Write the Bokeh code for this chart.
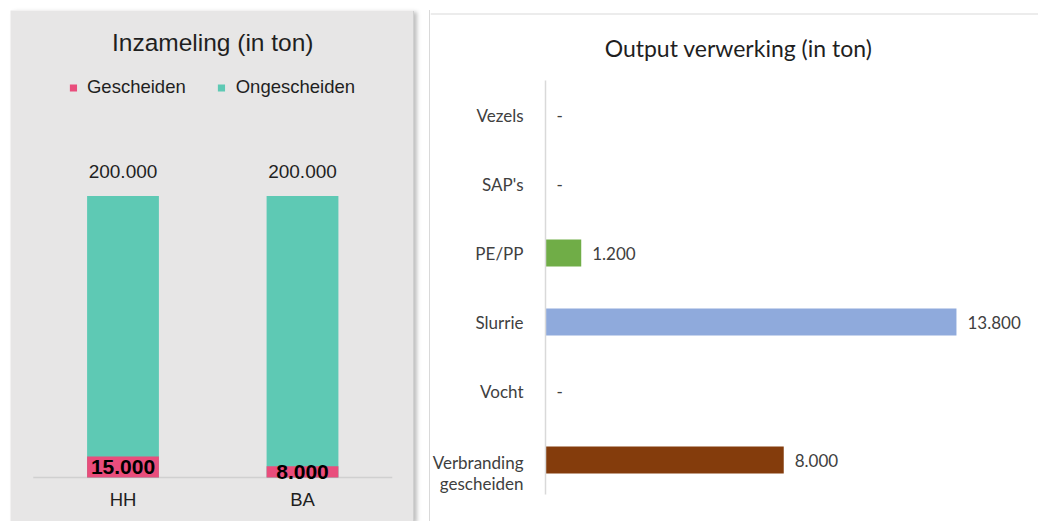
from bokeh.plotting import figure
from bokeh.models import Range1d, Legend, LegendItem, ColumnDataSource, Row, Span
from bokeh.core.properties import value
from bokeh.embed import file_html
from bokeh.resources import INLINE

# ---------------- data ----------------
groups = ["HH", "BA"]
gescheiden = [15000, 8000]
ongescheiden = [200000, 200000]

out_cats = ["Vezels", "SAP's", "PE/PP", "Slurrie", "Vocht", "Verbranding\ngescheiden"]
out_vals = [0, 0, 1200, 13800, 0, 8000]
out_colors = ["#4472C4", "#ED7D31", "#70AD47", "#8FAADC", "#A5A5A5", "#843C0C"]

def nl(v):
    return "-" if v == 0 else f"{v:,}".replace(",", ".")

ARIAL = "Liberation Sans"
CAL = "Lato"
BG = "#E7E6E6"
DARK = "#1F1F1F"

# both panels: the frame fills the whole canvas (top at page y=10, bottom at 521)
H = 511

# ---------------- left chart ----------------
W1 = 403
PX_PER_UNIT1 = 281.5 / 200000.0      # vertical scale
BASE1 = 467                           # baseline, px from canvas top
CAT_PX = 179.5                        # category spacing in px
CAT0_PX = 112.5                       # first category centre, px from canvas left
Y1_START = -(H - BASE1) / PX_PER_UNIT1
Y1_END = BASE1 / PX_PER_UNIT1
X1_START = -CAT0_PX / CAT_PX
X1_END = (W1 - CAT0_PX) / CAT_PX

p1 = figure(x_range=Range1d(X1_START, X1_END), y_range=Range1d(Y1_START, Y1_END),
            width=W1, height=H, output_backend="svg", toolbar_location=None,
            min_border=0, margin=(10, 0, 0, 10))
p1.background_fill_color = BG
p1.border_fill_color = BG
p1.outline_line_color = None
p1.grid.visible = False
p1.axis.visible = False
p1.styles = {"box-shadow": "1px 1px 0 #D0D0D0, 4px 2px 4px rgba(0,0,0,0.25)"}

n1 = len(groups)
idx = list(range(n1))
src1 = ColumnDataSource(dict(x=idx, g=groups, ges=gescheiden, onges=ongescheiden,
                             zero=[0] * n1,
                             ges_half=[v / 2 for v in gescheiden],
                             ges_lbl=[nl(v) for v in gescheiden],
                             onges_lbl=[nl(v) for v in ongescheiden]))
# category axis line
p1.segment(x0=[-0.5], y0=[0], x1=[n1 - 0.5], y1=[0], line_color="#D0D0D0", line_width=1.5)
r_on = p1.vbar(x="x", top="onges", width=0.40, source=src1, color="#5EC9B4", line_color=None)
r_ge = p1.vbar(x="x", top="ges", width=0.40, source=src1, color="#E94D7C", line_color=None)
p1.text(x="x", y="onges", text="onges_lbl", source=src1, y_offset=-25,
        text_align="center", text_baseline="middle", text_font=value(ARIAL),
        text_font_size="19px", text_color=DARK)
p1.text(x="x", y="ges_half", text="ges_lbl", source=src1,
        text_align="center", text_baseline="middle", text_font=value(ARIAL),
        text_font_size="21px", text_font_style="bold", text_color="#000000")
# category labels
p1.text(x="x", y="zero", text="g", source=src1, y_offset=22,
        text_align="center", text_baseline="middle", text_font=value(ARIAL),
        text_font_size="18.5px", text_color=DARK)
# chart title
p1.text(x=[(n1 - 1) / 2], y=[Y1_END], text=["Inzameling (in ton)"], y_offset=32,
        text_align="center", text_baseline="middle", text_font=value(ARIAL),
        text_font_size="24.5px", text_color=DARK)

leg = Legend(items=[LegendItem(label="Gescheiden", renderers=[r_ge]),
                    LegendItem(label="Ongescheiden", renderers=[r_on])],
             orientation="horizontal", location="top_center",
             glyph_width=9, glyph_height=9, label_standoff=10, spacing=31,
             label_height=22, padding=0, margin=66,
             border_line_color=None, background_fill_alpha=0,
             label_text_font=ARIAL, label_text_font_size="18.5px", label_text_color=DARK)
p1.add_layout(leg)

# ---------------- right chart ----------------
W2 = 608
PX_PER_TON = 0.02978
ZERO_PX = 115                         # 0 ton, px from canvas left
BAND = 69.0
LAST_PX = 449.5                       # centre of the bottom category, px from canvas top
X2_START = -ZERO_PX / PX_PER_TON
X2_END = (W2 - ZERO_PX) / PX_PER_TON
Y2_START = -(H - LAST_PX) / BAND
Y2_END = LAST_PX / BAND

n = len(out_cats)
ypos = [n - 1 - i for i in range(n)]

p2 = figure(x_range=Range1d(X2_START, X2_END), y_range=Range1d(Y2_START, Y2_END),
            width=W2, height=H, output_backend="svg", toolbar_location=None,
            min_border=0, margin=(10, 0, 0, 17))
p2.background_fill_color = "white"
p2.border_fill_color = "white"
p2.outline_line_color = None
p2.grid.visible = False
p2.axis.visible = False
p2.styles = {"box-shadow": "-1px 0 0 #D9D9D9"}
# panel top border
p2.add_layout(Span(location=Y2_END - 3.5 / BAND, dimension="width", line_color="#D9D9D9", line_width=1))

src2 = ColumnDataSource(dict(y=ypos, c=out_cats, v=out_vals, col=out_colors,
                             lbl=[nl(v) for v in out_vals],
                             dy=[13 if "\n" in c else 0 for c in out_cats]))
p2.hbar(y="y", right="v", left=0, height=0.39, source=src2, fill_color="col", line_color=None)
# category axis line
p2.segment(x0=[0], y0=[-0.5], x1=[0], y1=[n - 0.5], line_color="#D9D9D9", line_width=1.5)
# category labels
p2.text(x=0, y="y", text="c", source=src2, x_offset=-22, y_offset="dy",
        text_align="right", text_baseline="middle", text_font=value(CAL),
        text_font_size="17px", text_color="#404040", text_line_height=1.03)
# value labels
p2.text(x="v", y="y", text="lbl", source=src2, x_offset=11,
        text_align="left", text_baseline="middle", text_font=value(CAL),
        text_font_size="17px", text_color="#404040")
# chart title
p2.text(x=[(738 - 545) / PX_PER_TON], y=[Y2_END], text=["Output verwerking (in ton)"], y_offset=37,
        text_align="center", text_baseline="middle", text_font=value(CAL),
        text_font_size="23px", text_color=DARK)

layout = Row(children=[p1, p2], spacing=0)
open("out.html", "w").write(file_html(layout, INLINE))
